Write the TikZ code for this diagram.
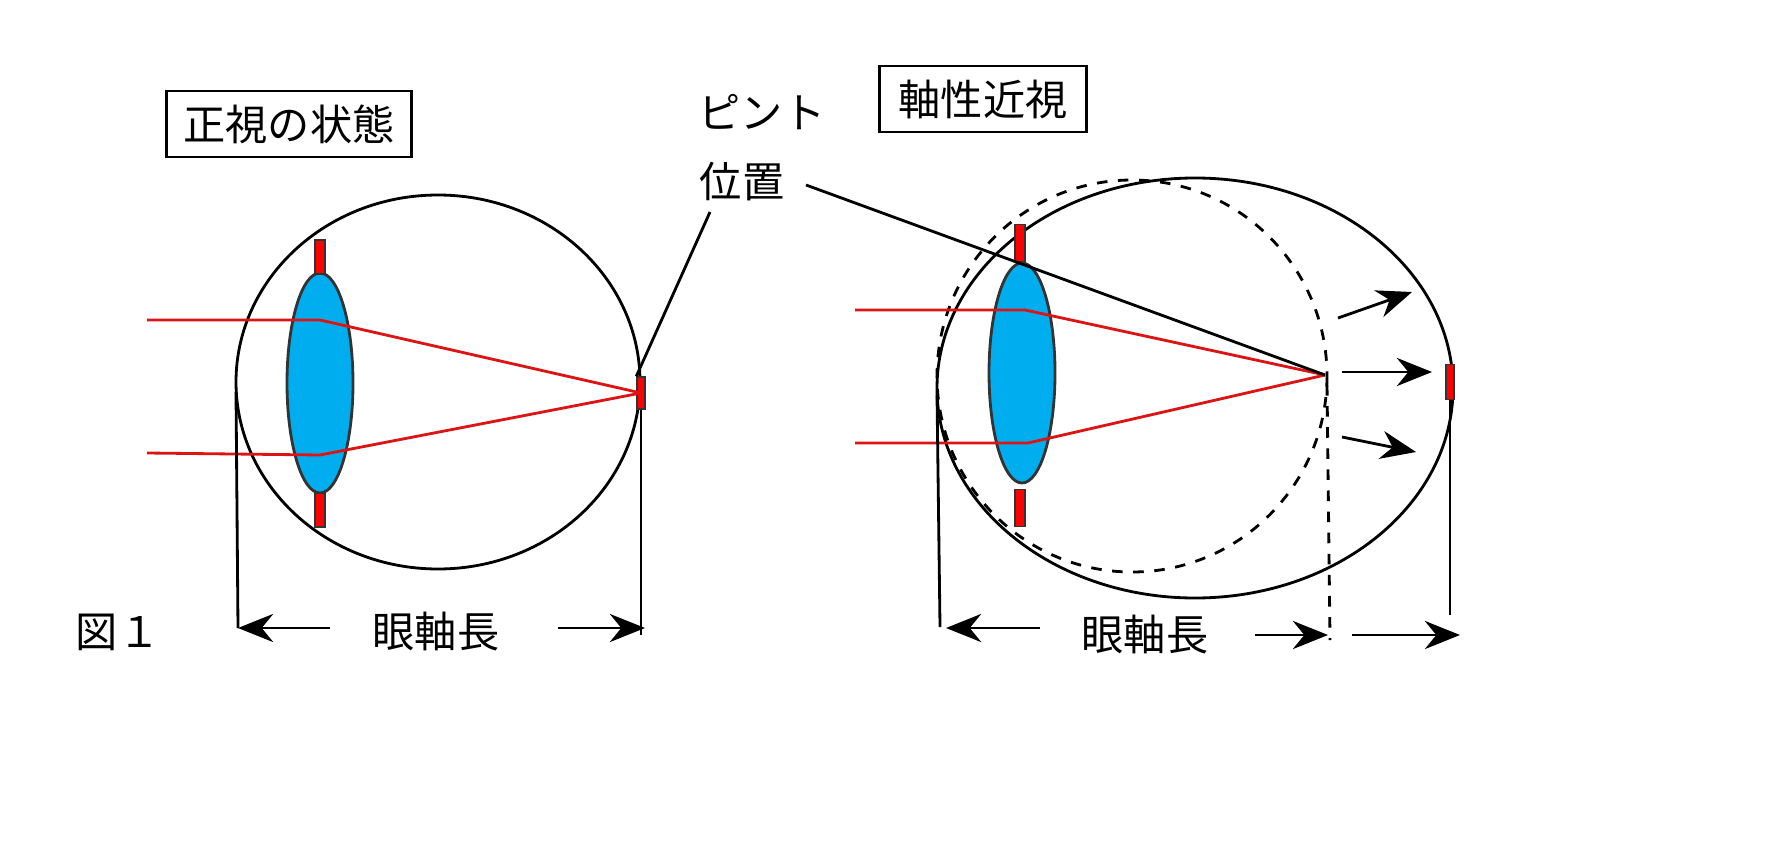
\documentclass[tikz,border=0pt]{standalone}
\usepackage{fontspec}
\setmainfont{Noto Sans CJK JP}
\usetikzlibrary{arrows.meta, positioning}
\definecolor{lens_blue}{RGB}{0, 174, 239}
\definecolor{ray_red}{RGB}{220, 20, 20}

\begin{document}
\begin{tikzpicture}[x=0.01cm, y=-0.01cm,
    label/.style={
        rectangle,
        draw,
        thick,
        minimum width=2.45cm,
        minimum height=0.66cm,
        font=\large
    },
    caption/.style={
        font=\large
    },
    eye/.style={
        draw,
        thick
    },
    lens/.style={
        draw=black!80,
        thick,
        fill=lens_blue
    },
    iris/.style={
        draw=black!80,
        fill=red,
        minimum width=0.1cm,
        inner sep=0pt
    },
    ray/.style={
        ray_red,
        thick
    },
    arrow/.style={
        -{Stealth[length=10pt, width=8pt]},
        thick
    }
]

\useasboundingbox (0,0) rectangle (1786,867);

% left eye
\draw[eye] (438,382) ellipse [x radius=202, y radius=187];
\draw[lens] (320,383) ellipse [x radius=33, y radius=110];
\node[iris, minimum height=0.34cm] (barTopL) at (320,257) {};
\node[iris, minimum height=0.34cm] (barBotL) at (320,510) {};
\node[iris, minimum width=0.08cm, minimum height=0.32cm] (focusL) at (641,393) {};
\draw[ray] (147,320) -- (320,320) -- (focusL.center);
\draw[ray] (147,453) -- (320,455) -- (focusL.center);

\node[label] (normal) at (289,124) {正視の状態};
\node[caption] (pinto) at (762,112) {ピント};
\node[caption] (pos) at (742,182) {位置};
\draw[thick] (710,212) -- (focusL.north west);

% left axial length
\coordinate (frontL) at (238,628);
\coordinate (backL) at (645,628);
\draw[thick] (236,392) -- (frontL);
\draw[thick] (641,410) -- (641,635);
\node[caption] (lenL) at (436,632) {眼軸長};
\node[caption] (fig) at (118,632) {図１};
\draw[arrow] (330,628) -- (frontL);
\draw[arrow] (558,628) -- (backL);

% right eye
\draw[eye] (1195,388) ellipse [x radius=258, y radius=210];
\draw[eye, dashed] (1132,376) ellipse [x radius=195, y radius=196];
\draw[lens] (1022,373) ellipse [x radius=33, y radius=110];
\node[iris, minimum height=0.37cm] (barTopR) at (1020,243) {};
\node[iris, minimum height=0.37cm] (barBotR) at (1020,508) {};
\node[iris, minimum width=0.08cm, minimum height=0.35cm] (focusR) at (1450,382) {};
\coordinate (pointR) at (1325,375);
\draw[ray] (855,310) -- (1025,310) -- (pointR);
\draw[ray] (855,443) -- (1028,443) -- (pointR);
\draw[thick] (806,185) -- (pointR);

\node[label, minimum width=2.07cm] (axial) at (983,99) {軸性近視};
\draw[arrow] (1338,318) -- (1412,292);
\draw[arrow] (1342,372) -- (1432,372);
\draw[arrow] (1342,437) -- (1416,452);

% right axial length
\coordinate (frontR) at (946,628);
\coordinate (midR) at (1328,635);
\coordinate (backR) at (1460,635);
\draw[thick] (937,395) -- (940,627);
\draw[thick, dashed] (1327,385) -- (1330,640);
\draw[thick] (1450,400) -- (1450,615);
\node[caption] (lenR) at (1145,635) {眼軸長};
\draw[arrow] (1040,628) -- (frontR);
\draw[arrow] (1255,635) -- (midR);
\draw[arrow] (1352,635) -- (backR);

\end{tikzpicture}
\end{document}
